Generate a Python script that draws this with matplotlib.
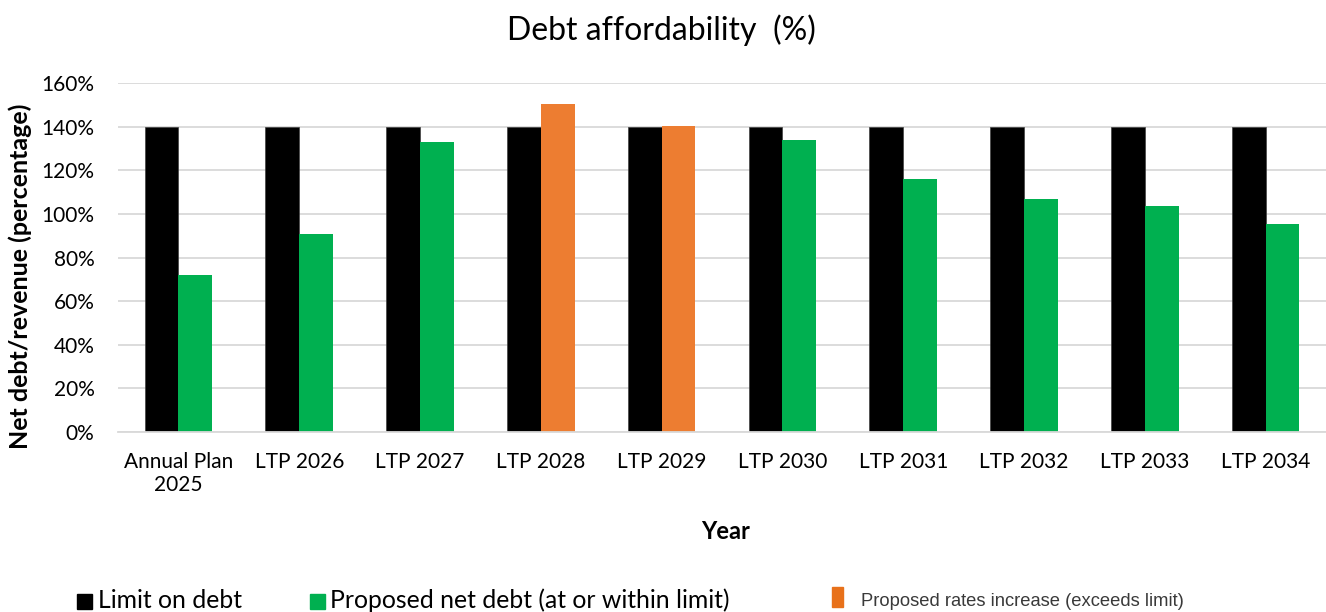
import matplotlib
matplotlib.use("Agg")
import matplotlib.pyplot as plt
import numpy as np
from matplotlib.patches import Rectangle
from matplotlib.ticker import FuncFormatter

# Data
years = ["Annual Plan\n2025", "LTP 2026", "LTP 2027", "LTP 2028", "LTP 2029",
         "LTP 2030", "LTP 2031", "LTP 2032", "LTP 2033", "LTP 2034"]
limit_on_debt = [140, 140, 140, 140, 140, 140, 140, 140, 140, 140]
proposed_net_debt = [72, 91, 133, 150.5, 140.5, 134, 116, 107, 103.5, 95.5]

BLACK = "#000000"
GREEN = "#00B050"
ORANGE = "#ED7D31"
GRID = "#D9D9D9"

plt.rcParams["font.family"] = ["Lato", "DejaVu Sans"]

fig = plt.figure(figsize=(13.26, 6.12), dpi=100)
ax = fig.add_axes([0.089, 0.294, 0.911, 0.5704])

x = np.arange(len(years))
w = 0.28

# colour the proposed bars orange where they exceed the limit
prop_colors = [ORANGE if p > l else GREEN for p, l in zip(proposed_net_debt, limit_on_debt)]

ax.bar(x - w / 2, limit_on_debt, w, color=BLACK, edgecolor="#404040", linewidth=0.5, zorder=3)
ax.bar(x + w / 2, proposed_net_debt, w, color=prop_colors, zorder=3)

ax.set_xlim(-0.5, len(years) - 0.5)
ax.set_ylim(0, 160)
ax.set_yticks(np.arange(0, 161, 20))
ax.yaxis.set_major_formatter(FuncFormatter(lambda v, _: f"{v:.0f}%"))
ax.set_xticks(x)
ax.set_xticklabels(years)

ax.grid(axis="y", color=GRID, linewidth=1.3, zorder=0)
for s in ["top", "right", "left"]:
    ax.spines[s].set_visible(False)
ax.spines["bottom"].set_color(GRID)
ax.spines["bottom"].set_linewidth(1.3)
ax.spines["bottom"].set_zorder(4)

ax.tick_params(axis="both", length=0, labelsize=15, colors="black")
ax.tick_params(axis="x", pad=14)
ax.tick_params(axis="y", pad=17)

ax.set_ylabel("Net debt/revenue (percentage)", fontsize=18, fontweight="bold")
ax.yaxis.set_label_coords(-0.071, 0.445)
ax.set_xlabel("Year", fontsize=17, fontweight="bold", va="center")
ax.xaxis.set_label_coords(0.503, -0.284)

fig.text(0.499, 0.951, "Debt affordability  (%)", ha="center", va="center", fontsize=23)

# legend along the bottom
H = 612.0
W = 1326.0
def px(xp, yp):
    return xp / W, 1 - yp / H

fig.add_artist(Rectangle(px(77, 609), 15 / W, 15 / H, transform=fig.transFigure,
                         color=BLACK, clip_on=False))
fig.text(*px(98, 608), "Limit on debt", fontsize=17.8, va="baseline")
fig.add_artist(Rectangle(px(310, 609), 15 / W, 15 / H, transform=fig.transFigure,
                         color=GREEN, clip_on=False))
fig.text(*px(330, 608), "Proposed net debt (at or within limit)", fontsize=17.8, va="baseline")
fig.add_artist(Rectangle(px(832, 607), 11 / W, 20 / H, transform=fig.transFigure,
                         color="#E8711A", clip_on=False))
fig.text(*px(861, 606), "Proposed rates increase (exceeds limit)", fontsize=13.2,
         va="baseline", color="#3A3A3A",
         family=["Liberation Sans Narrow", "Liberation Sans", "DejaVu Sans"])

fig.savefig("out.png", dpi=100)
